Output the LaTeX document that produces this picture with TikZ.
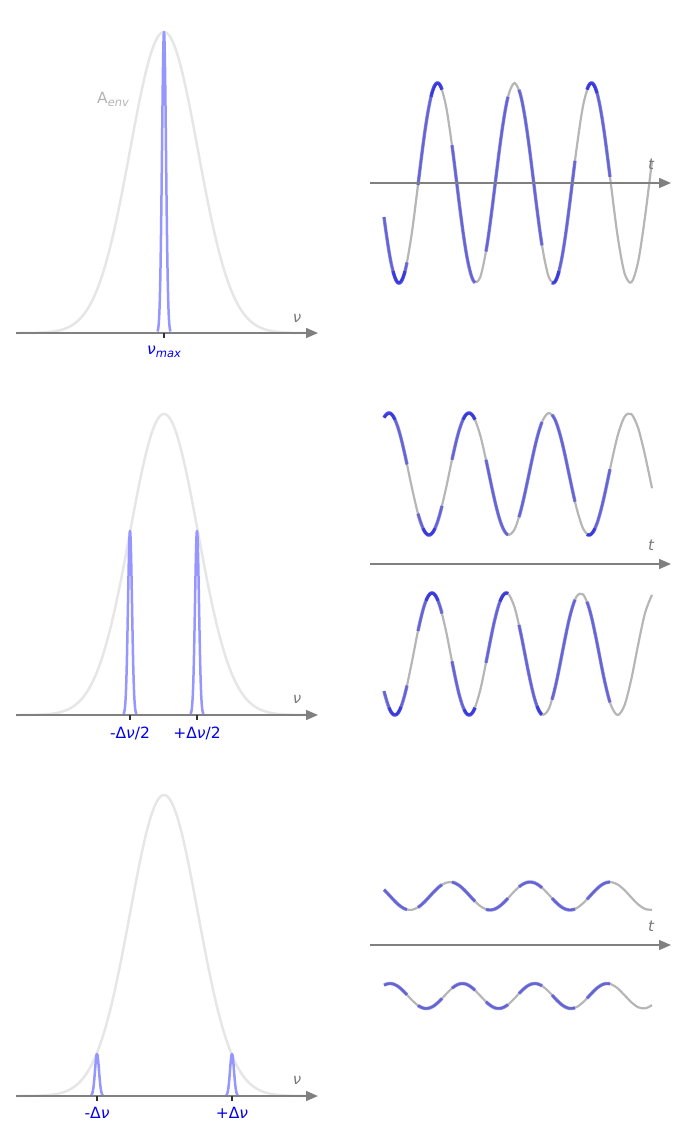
\documentclass[tikz,border=0pt]{standalone}
\usepackage{fontspec}
\setmainfont{DejaVu Sans}
\usetikzlibrary{arrows.meta}
\definecolor{axisgray}{RGB}{128,128,128}
\definecolor{envgray}{RGB}{230,230,230}
\definecolor{wavegray}{RGB}{182,182,182}
\definecolor{spikeblue}{RGB}{150,150,255}
\definecolor{segblue}{RGB}{10,10,230}
\definecolor{labblue}{RGB}{0,0,238}
\definecolor{labgray}{RGB}{120,120,120}
\definecolor{envlab}{RGB}{180,180,180}
\tikzset{
 axisline/.style={draw=axisgray, line width=1.5pt, -{Triangle[length=12pt,width=10pt]}},
 envelope/.style={draw=envgray, line width=2.5pt},
 spikeline/.style={draw=spikeblue, line width=2.5pt, line join=round},
 tickline/.style={draw=black!80, line width=1.5pt},
 wavebase/.style={draw=wavegray, line width=2.2pt},
 waveblue/.style={draw=segblue, draw opacity=0.47, line width=3.4pt, line cap=butt},
 axlab/.style={text=labgray, font=\fontsize{15}{18}\selectfont\itshape, inner sep=0pt},
 peaklab/.style={text=labblue, font=\fontsize{15.5}{18}\selectfont, inner sep=0pt},
}
\newcommand\envcurve[1]{\draw[envelope] plot[domain=16:312,samples=160,smooth,variable=\u] (\u,{#1-301*exp(-0.5*((\u-164)/34)*((\u-164)/34))});}
\newcommand\spikecurve[3]{\draw[spikeline] plot[domain=-6.5:6.5,samples=53,variable=\u] ({#1+\u},{#2-#3*exp(-0.5*(\u/2)*(\u/2))});}
\newcommand\wdef[4]{\def\wC{#1}\def\wA{#2}\def\wX{#3}\def\wP{#4}}
\newcommand\wseg[3]{\draw[#1] plot[domain=#2:#3,samples=40,smooth,variable=\u] (\u,{\wC-\wA*cos((\u-\wX)/\wP*360)});}
\newcommand\bluesegs{\foreach \a/\b in {384/407,418/442,452/475,486/508,519/542,552/575,587/610} {\wseg{waveblue}{\a}{\b}}}
\begin{document}
\begin{tikzpicture}[x=1pt,y=-1pt]
\useasboundingbox (0,0) rectangle (687,1144);
% ---------- left panels ----------
\envcurve{333}
\envcurve{715}
\envcurve{1096}
\spikecurve{164}{333}{301}
\spikecurve{130}{715}{184}
\spikecurve{197}{715}{184}
\spikecurve{97}{1096}{42}
\spikecurve{232}{1096}{42}
\coordinate (L1s) at (16,333);  \coordinate (L1e) at (318,333);
\coordinate (L2s) at (16,715);  \coordinate (L2e) at (318,715);
\coordinate (L3s) at (16,1096); \coordinate (L3e) at (318,1096);
\draw[axisline] (L1s) -- (L1e);
\draw[axisline] (L2s) -- (L2e);
\draw[axisline] (L3s) -- (L3e);
\draw[tickline] (164,333) -- (164,338);
\draw[tickline] (130,715) -- (130,720);
\draw[tickline] (197,715) -- (197,720);
\draw[tickline] (97,1096) -- (97,1101);
\draw[tickline] (232,1096) -- (232,1101);
\node[axlab] (nu1) at (297,318) {ν};
\node[axlab] (nu2) at (297,699) {ν};
\node[axlab] (nu3) at (297,1080) {ν};
\node[anchor=west, text=envlab, font=\fontsize{15.5}{18}\selectfont, inner sep=0pt] (aenv) at (97,99) {A\raisebox{-3pt}{\fontsize{11.5}{12}\selectfont\itshape env}};
\node[peaklab] (numax) at (164,352) {\textit{ν}\raisebox{-3pt}{\fontsize{11.5}{12}\selectfont\itshape max}};
\node[peaklab] (mh) at (130,733) {-Δ\textit{ν}/2};
\node[peaklab] (ph) at (197,733) {+Δ\textit{ν}/2};
\node[peaklab] (m1) at (97,1113) {-Δ\textit{ν}};
\node[peaklab] (p1) at (232,1113) {+Δ\textit{ν}};
% ---------- right panels ----------
\coordinate (R1s) at (370,183); \coordinate (R1e) at (671,183);
\coordinate (R2s) at (370,564); \coordinate (R2e) at (671,564);
\coordinate (R3s) at (370,945); \coordinate (R3e) at (671,945);
% wave 1
\wdef{183}{100}{437.5}{77}
\wseg{wavebase}{384}{652}
\bluesegs
\foreach \a/\b in {393/405,431/442,552/559,587/597} {\wseg{waveblue}{\a}{\b}}
% wave 2 top
\wdef{474}{61}{389}{80}
\wseg{wavebase}{384}{652}
\bluesegs
\foreach \a/\b in {384/395,423/435,463/475,587/595} {\wseg{waveblue}{\a}{\b}}
% wave 2 bottom
\wdef{654}{61}{432}{74.3}
\wseg{wavebase}{384}{652}
\bluesegs
\foreach \a/\b in {389/401,426/438,464/475,500/508,537/542} {\wseg{waveblue}{\a}{\b}}
% wave 3 top
\wdef{896}{14}{450}{80}
\wseg{wavebase}{384}{652}
\bluesegs
% wave 3 bottom
\wdef{996}{12.5}{390}{72.4}
\wseg{wavebase}{384}{652}
\bluesegs
\draw[axisline] (R1s) -- (R1e);
\draw[axisline] (R2s) -- (R2e);
\draw[axisline] (R3s) -- (R3e);
\node[axlab] (t1) at (651,164) {t};
\node[axlab] (t2) at (651,545) {t};
\node[axlab] (t3) at (651,926) {t};
\end{tikzpicture}
\end{document}
